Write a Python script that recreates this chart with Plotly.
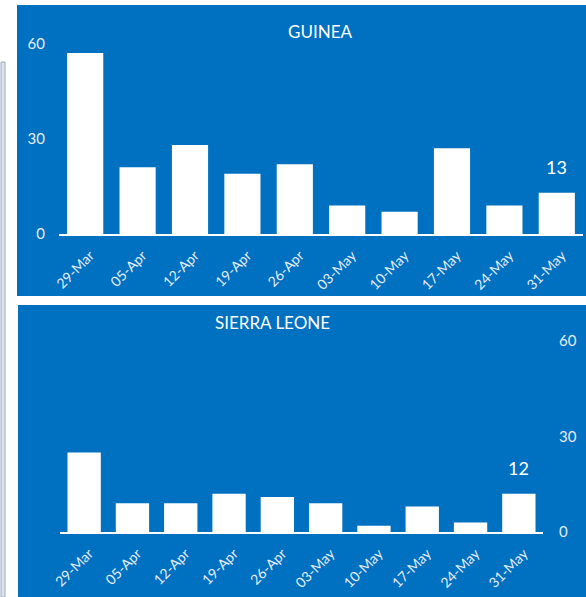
import plotly.graph_objects as go

dates = ["29-Mar", "05-Apr", "12-Apr", "19-Apr", "26-Apr",
         "03-May", "10-May", "17-May", "24-May", "31-May"]
guinea = [57, 21, 28, 19, 22, 9, 7, 27, 9, 13]
sierra_leone = [25, 9, 9, 12, 11, 9, 2, 8, 3, 12]
y_ticks = [0, 30, 60]

W, H = 586, 597
BLUE = "#0070C0"
TICK_COL = "#E6EDF7"
FONT = "Lato"

def px(x):
    return x / W

def py(y):
    return (H - y) / H

fig = go.Figure()
fig.add_trace(go.Bar(x=dates, y=guinea, marker=dict(color="white", line=dict(width=0)),
                     xaxis="x", yaxis="y", showlegend=False, hoverinfo="x+y"))
fig.add_trace(go.Bar(x=dates, y=sierra_leone, marker=dict(color="white", line=dict(width=0)),
                     xaxis="x2", yaxis="y2", showlegend=False, hoverinfo="x+y"))

xtickfont = dict(family=FONT, size=14, color=TICK_COL)
ytickfont = dict(family=FONT, size=15, color=TICK_COL)
common_x = dict(type="category", showgrid=False, zeroline=False, showline=True,
                linecolor="white", linewidth=2, ticks="", tickangle=-45,
                tickfont=xtickfont, fixedrange=True, automargin=False,
                ticklabelstandoff=6, ticklabelshift=5)
common_y = dict(range=[0, 60], tickvals=y_ticks, showgrid=False, zeroline=False,
                showline=False, ticks="", tickfont=ytickfont, fixedrange=True,
                automargin=False)

fig.update_layout(
    width=W, height=H, autosize=False,
    margin=dict(l=0, r=0, t=0, b=0, pad=0, autoexpand=False),
    paper_bgcolor="white",
    plot_bgcolor="rgba(0,0,0,0)",
    bargap=0.31,
    showlegend=False,
    font=dict(family=FONT, color="white"),
    xaxis=dict(domain=[px(59), px(583)], anchor="y", **common_x),
    yaxis=dict(domain=[py(234), py(43.5)], anchor="x", side="left",
               ticklabelstandoff=13, **common_y),
    xaxis2=dict(domain=[px(60), px(543)], anchor="y2", **common_x),
    yaxis2=dict(domain=[py(532), py(341)], anchor="x2", side="right",
                ticklabelstandoff=15, **common_y),
    shapes=[
        dict(type="rect", xref="paper", yref="paper", layer="below",
             x0=px(17), x1=1, y0=py(296), y1=py(5), fillcolor=BLUE, line=dict(width=0)),
        dict(type="rect", xref="paper", yref="paper", layer="below",
             x0=px(18), x1=1, y0=0, y1=py(305), fillcolor=BLUE, line=dict(width=0)),
        dict(type="rect", xref="paper", yref="paper", layer="below",
             x0=px(1), x1=px(5), y0=0, y1=py(62), fillcolor="#DDE3EC",
             line=dict(color="#9DAAC2", width=1)),
    ],
    annotations=[
        dict(text="GUINEA", xref="paper", yref="paper", x=px(320), y=py(31),
             showarrow=False, font=dict(family=FONT, size=17, color="white"),
             xanchor="center", yanchor="middle"),
        dict(text="SIERRA LEONE", xref="paper", yref="paper", x=px(272), y=py(322),
             showarrow=False, font=dict(family=FONT, size=17, color="white"),
             xanchor="center", yanchor="middle"),
        dict(text=str(guinea[-1]), xref="x", yref="y", x=dates[-1], y=guinea[-1],
             showarrow=False, yanchor="bottom", yshift=13,
             font=dict(family=FONT, size=18, color="white")),
        dict(text=str(sierra_leone[-1]), xref="x2", yref="y2", x=dates[-1], y=sierra_leone[-1],
             showarrow=False, yanchor="bottom", yshift=13,
             font=dict(family=FONT, size=18, color="white")),
    ],
)

fig.write_html("out.html", config={"displayModeBar": False},
               post_script="document.body.style.margin='0';document.body.style.overflow='hidden';")
